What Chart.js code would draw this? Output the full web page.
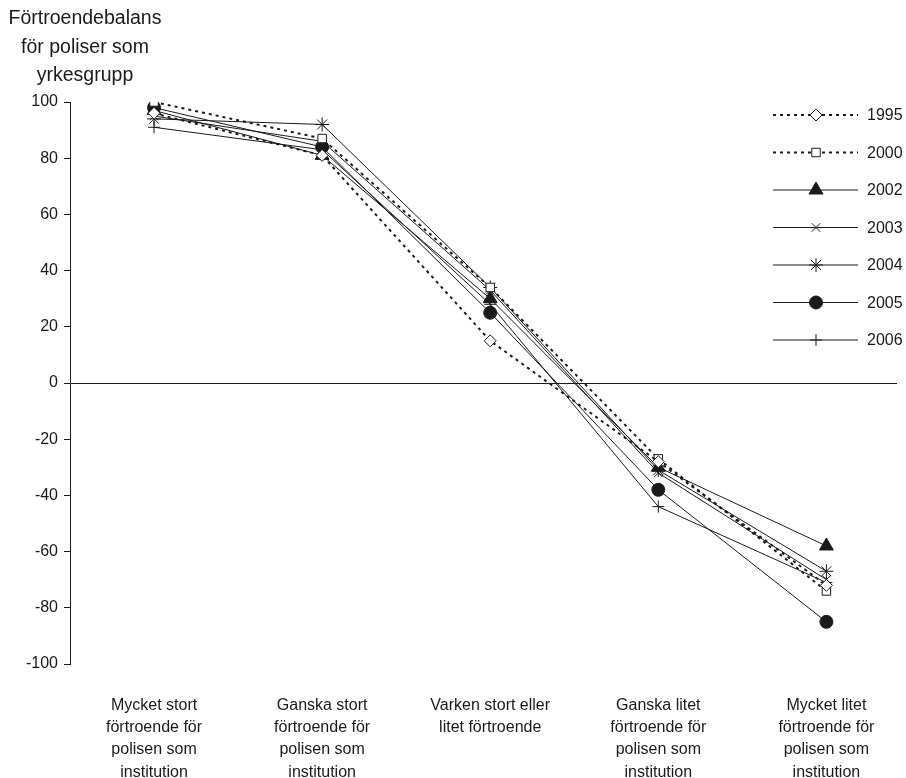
<!DOCTYPE html>
<html>
<head>
<meta charset="utf-8">
<script src="https://cdn.jsdelivr.net/npm/chart.js@4"></script>
<style>
  html, body { margin: 0; padding: 0; background: #fff; overflow: hidden; }
  #wrap { width: 906px; height: 778px; }
</style>
</head>
<body>
<div id="wrap"><canvas id="balans"></canvas></div>
<script>
const kategorier = [
  ['Mycket stort', 'förtroende för', 'polisen som', 'institution'],
  ['Ganska stort', 'förtroende för', 'polisen som', 'institution'],
  ['Varken stort eller', 'litet förtroende'],
  ['Ganska litet', 'förtroende för', 'polisen som', 'institution'],
  ['Mycket litet', 'förtroende för', 'polisen som', 'institution']
];
const ar = ['1995', '2000', '2002', '2003', '2004', '2005', '2006'];
const v1995 = [96, 81, 15, -28, -72];
const v2000 = [100, 87, 34, -27, -74];
const v2002 = [97, 81, 30, -30, -58];
const v2003 = [95, 86, 33, -32, -70];
const v2004 = [94, 92, 34, -31, -67];
const v2005 = [98, 84, 25, -38, -85];
const v2006 = [91, 83, 28, -44, -71];
const yTicks = [100, 80, 60, 40, 20, 0, -20, -40, -60, -80, -100];
const titelRader = ['Förtroendebalans', 'för poliser som', 'yrkesgrupp'];

const font = "'Liberation Sans', Arial, sans-serif";
const ink = '#1a1a1a';

function serie(label, values, style, radius, dashed, filled) {
  return {
    label: label,
    data: values.map((v, i) => ({ x: i, y: v })),
    borderColor: ink,
    borderWidth: dashed ? 2 : 1,
    borderDash: dashed ? [3, 4] : [],
    pointStyle: style,
    pointRadius: radius,
    pointHoverRadius: radius,
    pointBorderColor: ink,
    pointBorderWidth: 1,
    pointBackgroundColor: filled ? ink : '#fff',
    tension: 0
  };
}

const datasets = [
  serie(ar[0], v1995, 'rectRot', 6, true, false),
  serie(ar[1], v2000, 'rect', 6, true, false),
  serie(ar[2], v2002, 'triangle', 8, false, true),
  serie(ar[3], v2003, 'crossRot', 6, false, false),
  serie(ar[4], v2004, 'star', 7, false, false),
  serie(ar[5], v2005, 'circle', 6.5, false, true),
  serie(ar[6], v2006, 'cross', 6, false, false)
];

const extras = {
  id: 'extras',
  afterDraw(chart) {
    const ctx = chart.ctx;
    ctx.save();
    // titel
    ctx.fillStyle = ink;
    ctx.font = '19.5px ' + font;
    ctx.textAlign = 'center';
    ctx.textBaseline = 'middle';
    titelRader.forEach((t, i) => ctx.fillText(t, 85, 19 + i * 28.5));
    // legend
    ctx.font = '16px ' + font;
    chart.data.datasets.forEach((ds, i) => {
      const y = 115 + i * 37.5;
      ctx.strokeStyle = ink;
      ctx.lineWidth = ds.borderWidth;
      ctx.setLineDash(ds.borderDash);
      ctx.beginPath();
      ctx.moveTo(773, y);
      ctx.lineTo(858, y);
      ctx.stroke();
      ctx.setLineDash([]);
      ctx.lineWidth = 1;
      ctx.fillStyle = ds.pointBackgroundColor;
      Chart.helpers.drawPoint(ctx, {
        pointStyle: ds.pointStyle, radius: ds.pointRadius, rotation: 0, borderWidth: 1
      }, 816, y);
      ctx.fillStyle = ink;
      ctx.textAlign = 'left';
      ctx.fillText(ds.label, 867, y + 1);
    });
    ctx.restore();
  }
};

new Chart(document.getElementById('balans'), {
  type: 'line',
  data: { datasets: datasets },
  options: {
    responsive: true,
    maintainAspectRatio: false,
    animation: false,
    layout: { padding: { top: 102, right: 9, left: 0, bottom: 0 } },
    plugins: { legend: { display: false }, tooltip: { enabled: false } },
    scales: {
      x: {
        type: 'linear',
        min: -0.5,
        max: 4.42,
        afterBuildTicks: s => { s.ticks = kategorier.map((k, i) => ({ value: i })); },
        afterFit: s => { s.height = 114; },
        grid: { display: false },
        border: { display: false },
        ticks: {
          autoSkip: false,
          maxRotation: 0,
          padding: 22,
          color: ink,
          font: { family: font, size: 16, lineHeight: 1.4 },
          callback: v => kategorier[v]
        }
      },
      y: {
        min: -100,
        max: 100,
        afterBuildTicks: s => { s.ticks = yTicks.map(v => ({ value: v })); },
        afterFit: s => { s.width = 70; },
        border: { display: true, color: ink, width: 1 },
        grid: {
          drawOnChartArea: true,
          color: c => (c.tick && c.tick.value === 0) ? ink : 'transparent',
          tickColor: ink,
          tickLength: 6,
          lineWidth: 1
        },
        ticks: {
          padding: 6,
          color: ink,
          font: { family: font, size: 16 }
        }
      }
    }
  },
  plugins: [extras]
});
</script>
</body>
</html>
